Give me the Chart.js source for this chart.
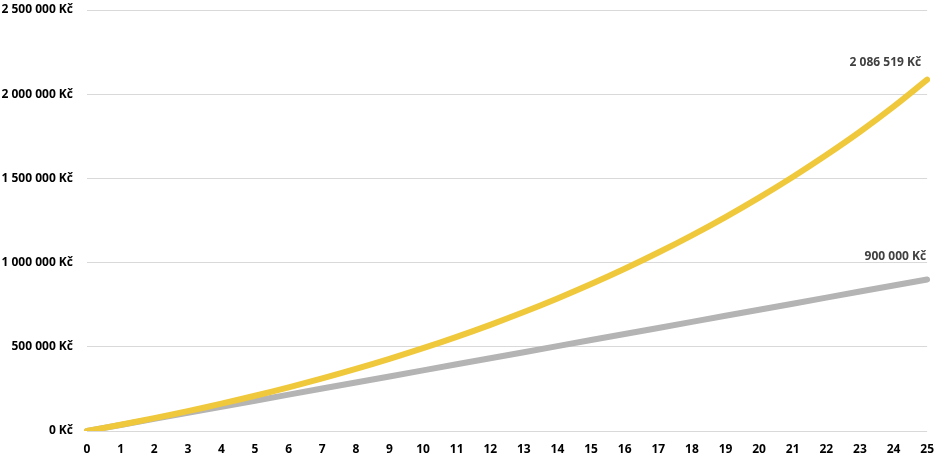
<!DOCTYPE html>
<html>
<head>
<meta charset="utf-8">
<script src="https://cdn.jsdelivr.net/npm/chart.js@4.4.0/dist/chart.umd.min.js"></script>
<style>
  html, body { margin: 0; padding: 0; background: #fff; }
  #wrap { width: 945px; height: 458px; }
</style>
</head>
<body>
<div id="wrap"><canvas id="chart"></canvas></div>
<script>
// years on the x axis
const years = ['0','1','2','3','4','5','6','7','8','9','10','11','12','13','14','15','16','17','18','19','20','21','22','23','24','25'];

// invested with interest (yellow)
const withInterest = [0, 37000, 76300, 118000, 162300, 209300, 259200, 312200, 368500, 428200,
  491600, 559000, 630500, 706300, 786900, 872500, 963300, 1059700, 1162100, 1270700,
  1386100, 1508600, 1638700, 1776800, 1926000, 2086519];

// deposited only (gray)
const deposited = [0, 36000, 72000, 108000, 144000, 180000, 216000, 252000, 288000, 324000,
  360000, 396000, 432000, 468000, 504000, 540000, 576000, 612000, 648000, 684000,
  720000, 756000, 792000, 828000, 864000, 900000];

const yTicks = [0, 500000, 1000000, 1500000, 2000000, 2500000];

function fmtKc(v) {
  return String(Math.round(v)).replace(/\B(?=(\d{3})+(?!\d))/g, ' ') + ' Kč';
}

const labelFont = 'bold 12px "Open Sans"';

// end labels above the last point of each line
const endLabels = {
  id: 'endLabels',
  afterDatasetsDraw(chart) {
    let ctx = chart.ctx;
    let offY = [17, 23];
    let offX = [-6, -1];
    ctx.save();
    ctx.font = labelFont;
    ctx.fillStyle = '#404040';
    ctx.textAlign = 'right';
    ctx.textBaseline = 'middle';
    chart.data.datasets.forEach(function (ds, i) {
      let meta = chart.getDatasetMeta(i);
      let last = meta.data[meta.data.length - 1];
      ctx.fillText(fmtKc(ds.data[ds.data.length - 1]), last.x + offX[i], last.y - offY[i]);
    });
    ctx.restore();
  }
};

new Chart(document.getElementById('chart').getContext('2d'), {
  type: 'line',
  data: {
    labels: years,
    datasets: [{
      label: 'S úročením',
      data: withInterest,
      borderColor: '#EFC93B',
      borderWidth: 6,
      pointRadius: 0,
      tension: 0.4,
      borderCapStyle: 'round',
      fill: false
    }, {
      label: 'Vklady',
      data: deposited,
      borderColor: '#B4B4B4',
      borderWidth: 6,
      pointRadius: 0,
      tension: 0,
      borderCapStyle: 'round',
      fill: false
    }]
  },
  options: {
    responsive: true,
    maintainAspectRatio: false,
    animation: false,
    layout: { padding: { top: 10, right: 17, left: 0, bottom: 0 } },
    plugins: {
      legend: { display: false },
      tooltip: { enabled: false }
    },
    scales: {
      x: {
        offset: false,
        grid: { display: false, drawTicks: false },
        border: { display: false },
        ticks: {
          color: '#000',
          font: { family: 'Open Sans', weight: 'bold', size: 12 },
          padding: 11,
          maxRotation: 0,
          autoSkip: false
        },
        afterFit(scale) { scale.height = 27; }
      },
      y: {
        min: 0,
        max: 2500000,
        afterBuildTicks(scale) { scale.ticks = yTicks.map(v => ({ value: v })); },
        grid: { color: '#D9D9D9', lineWidth: 1, drawTicks: false },
        border: { display: false },
        ticks: {
          color: '#000',
          font: { family: 'Open Sans', weight: 'bold', size: 12 },
          padding: 14,
          callback: v => fmtKc(v)
        },
        afterFit(scale) {
          scale.width = 87;
          scale.paddingTop = 0;
          scale.paddingBottom = 0;
        }
      }
    }
  },
  plugins: [endLabels]
});
</script>
</body>
</html>
